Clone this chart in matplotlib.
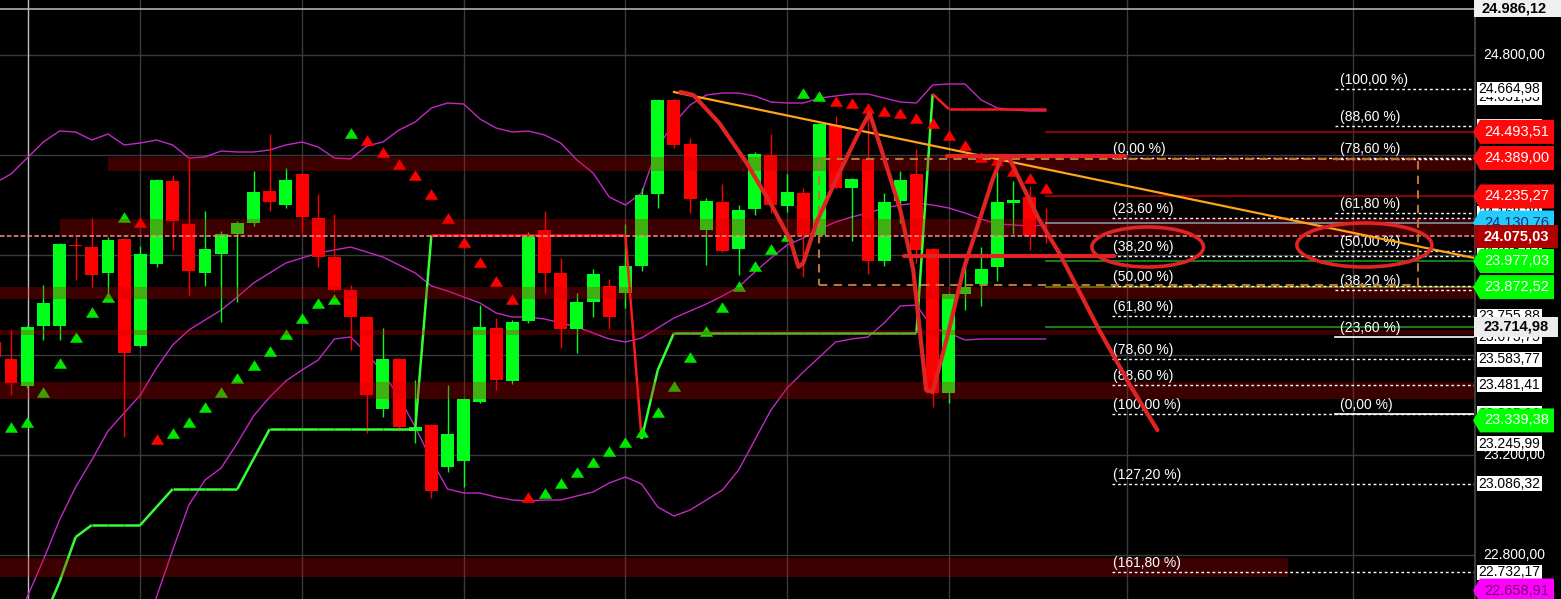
import numpy as np
import matplotlib
matplotlib.use("Agg")
import matplotlib.pyplot as plt
from matplotlib.patches import Rectangle, Ellipse, Polygon
from matplotlib.collections import LineCollection

plt.rcParams['font.family'] = ['Liberation Sans', 'DejaVu Sans']

# ---------------- data ----------------
candle_idx = list(range(-1, 65))
opens = [23653, 23585, 23477, 23717, 23717, 24041, 24033, 23929, 24065, 23637,
         23965, 24297, 24125, 23929, 24005, 24085, 24129, 24257, 24201, 24325,
         24149, 23993, 23861, 23753, 23385, 23585, 23297, 23321, 23153, 23177,
         23413, 23709, 23497, 23737, 24101, 23929, 23705, 23813, 23877, 23849,
         23957, 24245, 24621, 24445, 24101, 24213, 24025, 24185, 24401, 24197,
         24249, 24081, 24521, 24269, 24385, 23977, 24217, 24325, 24025, 23449,
         23845, 23885, 23953, 24209, 24233, 24081]
highs = [23669, 23701, 23717, 23881, 24049, 24073, 24149, 24073, 24069, 24037,
         24305, 24321, 24389, 24177, 24097, 24137, 24337, 24485, 24349, 24329,
         24245, 24165, 23881, 23757, 23709, 23589, 23501, 23325, 23481, 23429,
         23801, 23749, 23741, 24093, 24177, 23989, 23849, 23945, 23905, 24125,
         24269, 24625, 24625, 24469, 24229, 24285, 24201, 24413, 24485, 24325,
         24269, 24529, 24557, 24309, 24597, 24249, 24337, 24425, 24029, 23849,
         23993, 24033, 24341, 24297, 24277, 24189]
lows = [23581, 23441, 23469, 23661, 23661, 23901, 23873, 23833, 23273, 23633,
        23953, 24021, 23837, 23877, 23733, 23813, 24117, 24177, 24189, 24093,
        23953, 23857, 23621, 23289, 23353, 23297, 23249, 23029, 23133, 23073,
        23409, 23461, 23485, 23729, 23849, 23629, 23609, 23753, 23705, 23789,
        23937, 24189, 24429, 24169, 23961, 24013, 23921, 24161, 24169, 24173,
        23913, 24061, 24265, 24057, 23925, 23957, 24129, 23969, 23393, 23409,
        23781, 23797, 23897, 24085, 24021, 24049]
closes = [23593, 23489, 23713, 23809, 24045, 24037, 23921, 24061, 23609, 24005,
          24301, 24137, 23937, 24025, 24085, 24129, 24253, 24213, 24301, 24153,
          23993, 23861, 23753, 23441, 23585, 23313, 23313, 23057, 23285, 23425,
          23713, 23501, 23733, 24073, 23929, 23705, 23813, 23925, 23753, 23957,
          24241, 24621, 24441, 24225, 24217, 24017, 24181, 24405, 24201, 24253,
          24081, 24525, 24269, 24305, 23977, 24213, 24301, 24021, 23449, 23845,
          23873, 23945, 24213, 24221, 24077, 24075]

bb_upper = [24289, 24325, 24389, 24453, 24497, 24493, 24461, 24485, 24441, 24449,
            24461, 24441, 24389, 24393, 24417, 24413, 24413, 24421, 24441, 24453,
            24433, 24389, 24385, 24437, 24453, 24501, 24533, 24589, 24609, 24605,
            24545, 24509, 24493, 24497, 24481, 24449, 24381, 24329, 24233, 24201,
            24249, 24433, 24529, 24601, 24641, 24649, 24649, 24637, 24613, 24609,
            24609, 24629, 24637, 24645, 24645, 24629, 24613, 24609, 24681, 24685,
            24685, 24621, 24589, 24581, 24577, 24577]
bb_middle = [22345, 22485, 22633, 22781, 22941, 23073, 23181, 23297, 23369, 23441,
             23549, 23641, 23701, 23741, 23781, 23833, 23889, 23929, 23969, 23989,
             24009, 24021, 24033, 24013, 23993, 23961, 23929, 23877, 23857, 23833,
             23809, 23769, 23753, 23753, 23745, 23729, 23713, 23689, 23665, 23653,
             23669, 23709, 23749, 23777, 23805, 23837, 23873, 23933, 23989, 24041,
             24069, 24105, 24133, 24153, 24169, 24189, 24201, 24209, 24201, 24189,
             24169, 24145, 24125, 24121, 24117, 24121]
bb_lower = [np.nan, np.nan, np.nan, np.nan, np.nan, np.nan, np.nan, 22097, 22277, 22457,
            22633, 22821, 23001, 23101, 23149, 23249, 23357, 23433, 23497, 23541,
            23581, 23665, 23673, 23609, 23529, 23433, 23313, 23181, 23065, 23049,
            23049, 23033, 23021, 23017, 23021, 23021, 23037, 23053, 23089, 23113,
            23085, 22993, 22957, 22981, 23021, 23061, 23141, 23261, 23381, 23469,
            23533, 23593, 23653, 23665, 23673, 23729, 23797, 23801, 23709, 23689,
            23661, 23665, 23665, 23665, 23665, 23665]

sar_idx = list(range(0, 65))
sar_vals = [23313, 23333, 23453, 23569, 23673, 23773, 23833, 24153, 24133, 23265,
            23289, 23333, 23393, 23453, 23509, 23561, 23617, 23685, 23749, 23809,
            23825, 24489, 24461, 24413, 24365, 24321, 24245, 24149, 24053, 23973,
            23897, 23825, 23033, 23049, 23089, 23133, 23173, 23217, 23253, 23293,
            23373, 23477, 23593, 23697, 23793, 23877, 23957, 24025, 24077, 24649,
            24637, 24617, 24609, 24589, 24577, 24569, 24549, 24529, 24481, 24441,
            24393, 24381, 24337, 24309, 24269]
sar_side = "ggggggggrrggggggggggggrrrrrrrrrrrggggggggggggggggggrrrrrrrrrrrrrrr"

stop_idx = list(range(2, 65))
stop_vals = [22541, 22693, 22873, 22921, 22921, 22921, 22921, 22993, 23065, 23065,
             23065, 23065, 23065, 23185, 23305, 23305, 23305, 23305, 23305, 23305,
             23305, 23305, 23305, 23305, 24081, 24081, 24081, 24081, 24081, 24081,
             24081, 24081, 24081, 24081, 24081, 24081, 24081, 23265, 23541, 23689,
             23689, 23689, 23689, 23689, 23689, 23689, 23689, 23689, 23689, 23689,
             23689, 23689, 23689, 23689, 23689, 24645, 24585, 24585, 24585, 24585,
             24585, 24585, 24585]
stop_trend = "gggggggggggggggggggggggg" + "rrrrrrrrrrrrr" + "gggggggggggggggggg" + "rrrrrrrr"

zone_lo = [24337, 24077, 23825, 23681, 23425, 22713]
zone_hi = [24393, 24145, 23873, 23701, 23493, 22789]
zone_x0 = [6.0, 3.0, -0.7, -0.7, -0.7, -0.7]
zone_x1 = [90.5, 90.5, 90.5, 90.5, 90.5, 79.0]

grid_prices = [24800, 24400, 24000, 23600, 23200, 22800]
grid_idx = [8, 18, 28, 38, 48, 58, 69, 83]
cursor_idx = 1.05
top_line = 24986.12
current_price = 24075.03

trend_x = [41.0, 90.5]
trend_p = [24653, 23989]

draw_x = [41.4, 42.2, 43.8, 45.5, 47.1, 48.2, 48.7, 49.0, 49.8, 51.1, 52.3, 53.1,
          53.7, 55.0, 55.8, 56.6, 57.0, 57.9, 58.9, 59.9, 60.7, 61.2, 61.7, 62.6,
          63.6, 64.9, 67.3, 69.2, 70.9]
draw_p = [24653, 24641, 24529, 24369, 24193, 24061, 23953, 23969, 24129, 24313,
          24473, 24569, 24449, 24181, 23941, 23461, 23453, 23673, 23941, 24141,
          24301, 24381, 24393, 24273, 24141, 24001, 23701, 23481, 23301]
mark_lines = [(57.9, 68.9, 24397), (55.2, 68.2, 23997)]
mark_ellipses = [(70.3, 24033, 6.9, 160), (83.7, 24041, 8.35, 176)]

fib_box = (50.0, 87.0, 23881, 24385)

side_lines = [24493.51, 24235.27, 24130.76, 23977.03, 23872.52, 23714.98]
side_colors = ['#a00000', '#a00000', '#7a8a9a', '#1a8a1a', '#707000', '#1a8a1a']
side_start = 64.0

left_fib_pct = ["(0,00 %)", "(23,60 %)", "(38,20 %)", "(50,00 %)", "(61,80 %)",
                "(78,60 %)", "(88,60 %)", "(100,00 %)", "(127,20 %)", "(161,80 %)"]
left_fib_lvl = [24389.00, 24147.23, 23997.66, 23876.77, 23755.88, 23583.77,
                23481.41, 23364.54, 23086.32, 22732.17]
right_fib_pct = ["(100,00 %)", "(88,60 %)", "(78,60 %)", "(61,80 %)", "(50,00 %)",
                 "(38,20 %)", "(23,60 %)", "(0,00 %)"]
right_fib_lvl = [24664.98, 24516.71, 24386.67, 24168.20, 24015.02, 23861.84,
                 23673.75, 23365.06]

# right axis labels: (value, kind) in drawing order
axis_vals = [24800.00, 23200.00, 22800.00,
             24631.53, 24516.71, 24168.20, 24015.02, 23755.88, 23673.75, 23365.06,
             24664.98, 23583.77, 23481.41, 23245.99, 23086.32, 22732.17,
             24130.76,
             24493.51, 24389.00, 24235.27, 23977.03, 23872.52, 23339.38, 22658.91,
             24075.03, 23714.98, 24986.12]
axis_kinds = ['plain', 'plain', 'plain',
              'box', 'box', 'box', 'box', 'box', 'box', 'box',
              'box', 'box', 'box', 'box', 'box', 'box',
              'cyan',
              'red', 'red', 'red', 'green', 'green', 'green', 'magenta',
              'cur', 'gray', 'top']

# ---------------- figure ----------------
W, H = 1561, 599
PANEL = 1474
P_TOP, P_BOT = 25021, 22625
X_LEFT, X_RIGHT = -0.68, 90.48

fig = plt.figure(figsize=(W / 100, H / 100), dpi=100, facecolor='black')
ax = fig.add_axes([0, 0, PANEL / W, 1])
ax.set_facecolor('black')
ax.set_xlim(X_LEFT, X_RIGHT)
ax.set_ylim(P_BOT, P_TOP)
ax.axis('off')

# grid
for gp in grid_prices:
    ax.axhline(gp, color='#3a3a3a', lw=1, zorder=0)
for gx in grid_idx:
    ax.axvline(gx, color='#3a3a3a', lw=1, zorder=0)
ax.axvline(cursor_idx, color='#bdbdbd', lw=1, zorder=0.5)
ax.axhline(top_line, color='#b0b0b0', lw=1.2, zorder=0.5)

# bollinger bands
for band in (bb_upper, bb_middle, bb_lower):
    ax.plot(candle_idx, band, color='#c428c4', lw=1.0, zorder=2)

# candles
for i, o, h, l, c in zip(candle_idx, opens, highs, lows, closes):
    col = '#00ff1a' if c >= o else '#ff0000'
    ax.vlines(i, l, h, color=col, lw=1.0, zorder=3)
    ax.add_patch(Rectangle((i - 0.4, min(o, c)), 0.8, max(abs(c - o), 4),
                           facecolor=col, edgecolor='none', zorder=3))

# stop line
pts = np.column_stack([stop_idx, stop_vals])
segs = [pts[k:k + 2] for k in range(len(pts) - 1)]
cols = ['#33ff33' if stop_trend[k] == 'g' else '#ff1a1a' for k in range(len(pts) - 1)]
ax.add_collection(LineCollection(segs, colors=cols, linewidths=1.8, zorder=4))

# SAR
tri = [(-1, -0.8), (1, -0.8), (0, 0.8)]
for i, v, s in zip(sar_idx, sar_vals, sar_side):
    ax.plot(i, v, marker=tri, markersize=9.5, color='#00e600' if s == 'g' else '#ff0000',
            markeredgewidth=0, zorder=4.5)

# zones
for lo, hi, x0, x1 in zip(zone_lo, zone_hi, zone_x0, zone_x1):
    ax.add_patch(Rectangle((x0, lo), x1 - x0, hi - lo, facecolor='#cc0000',
                           alpha=0.3, edgecolor='none', zorder=6))

# side lines
for v, c in zip(side_lines, side_colors):
    ax.plot([side_start, X_RIGHT], [v, v], color=c, lw=1.3, zorder=6.5)

# current price
ax.axhline(current_price, color='#ff8c8c', lw=1.1, dashes=(3, 1.5), zorder=6.6)

# fib tools
for lbl, lv in zip(left_fib_pct, left_fib_lvl):
    ax.plot([68.1, X_RIGHT], [lv, lv], color='white', lw=1, dashes=(2, 2), zorder=7)
    ax.annotate(lbl, (68.15, lv), xytext=(0, 1.5), textcoords='offset points',
                ha='left', va='bottom', color='white', fontsize=10, zorder=7)
for lbl, lv in zip(right_fib_pct, right_fib_lvl):
    if lbl in ("(23,60 %)", "(0,00 %)"):
        ax.plot([81.9, X_RIGHT], [lv, lv], color='white', lw=1.2, zorder=7)
    else:
        ax.plot([81.9, X_RIGHT], [lv, lv], color='white', lw=1, dashes=(2, 2), zorder=7)
    ax.annotate(lbl, (82.2, lv), xytext=(0, 1.5), textcoords='offset points',
                ha='left', va='bottom', color='white', fontsize=10, zorder=7)

bx0, bx1, by0, by1 = fib_box
ax.add_patch(Rectangle((bx0, by0), bx1 - bx0, by1 - by0, fill=False,
                       edgecolor='#b8753a', lw=1.5, linestyle=(0, (4, 3)), zorder=7))

# trend line
ax.plot(trend_x, trend_p, color='#ffa31a', lw=1.6, zorder=8)

# hand drawings
ax.plot(draw_x, draw_p, color='#e02424', lw=3, solid_capstyle='round',
        solid_joinstyle='round', zorder=9)
for x0, x1, y in mark_lines:
    ax.plot([x0, x1], [y, y], color='#e02424', lw=3, solid_capstyle='round', zorder=9)
for cx, cy, w, h in mark_ellipses:
    ax.add_patch(Ellipse((cx, cy), w, h, fill=False, edgecolor='#e02424', lw=2.6, zorder=9))

# ---------------- right price panel ----------------
ax2 = fig.add_axes([PANEL / W, 0, (W - PANEL) / W, 1])
ax2.set_facecolor('black')
ax2.set_xlim(0, W - PANEL)
ax2.set_ylim(P_BOT, P_TOP)
ax2.axis('off')
ax2.axvline(0.5, color='#4a4a4a', lw=1.2, zorder=1)

def fmt(v):
    s = f"{v:,.2f}"
    return s.replace(',', 'X').replace('.', ',').replace('X', '.')

flag_cols = {'red': ('#ff0a0a', 'white'), 'green': ('#00ff00', 'white'),
             'cyan': ('#22ccff', '#1a2a6a'), 'magenta': ('#ff00ff', '#6a0a6a')}
for k, (v, kind) in enumerate(zip(axis_vals, axis_kinds)):
    zp, zt = 10 + 2 * k, 11 + 2 * k
    txt = fmt(v)
    if kind == 'plain':
        ax2.text(40, v, txt, color='white', fontsize=10, ha='center', va='center', zorder=zt)
    elif kind == 'box':
        ax2.add_patch(Rectangle((3, v - 30), 65, 60, facecolor='white',
                                edgecolor='none', zorder=zp))
        ax2.text(35.5, v, txt, color='black', fontsize=10, ha='center', va='center', zorder=zt)
    elif kind in flag_cols:
        fc, tc = flag_cols[kind]
        ax2.add_patch(Polygon([(-1, v), (6, v + 48), (80, v + 48), (80, v - 48), (6, v - 48)],
                              closed=True, facecolor=fc, edgecolor='none',
                              zorder=zp, clip_on=False))
        ax2.text(43, v, txt, color=tc, fontsize=10.5, ha='center', va='center', zorder=zt)
    elif kind == 'cur':
        ax2.add_patch(Rectangle((1, v - 46), 83, 92, facecolor='#b00000',
                                edgecolor='none', zorder=zp))
        ax2.text(42, v, txt, color='white', fontsize=10.5, fontweight='bold',
                 ha='center', va='center', zorder=zt)
    elif kind == 'gray':
        ax2.add_patch(Rectangle((0, v - 40), 84, 80, facecolor='#ececec',
                                edgecolor='none', zorder=zp))
        ax2.text(42, v, txt, color='black', fontsize=10.5, fontweight='bold',
                 ha='center', va='center', zorder=zt)
    elif kind == 'top':
        ax2.add_patch(Rectangle((0, v - 34), 87, 68, facecolor='#f0f0f0',
                                edgecolor='none', zorder=zp))
        ax2.text(40, v, txt, color='black', fontsize=10.5, fontweight='bold',
                 ha='center', va='center', zorder=zt)

fig.savefig('out.png', dpi=100, facecolor='black')
